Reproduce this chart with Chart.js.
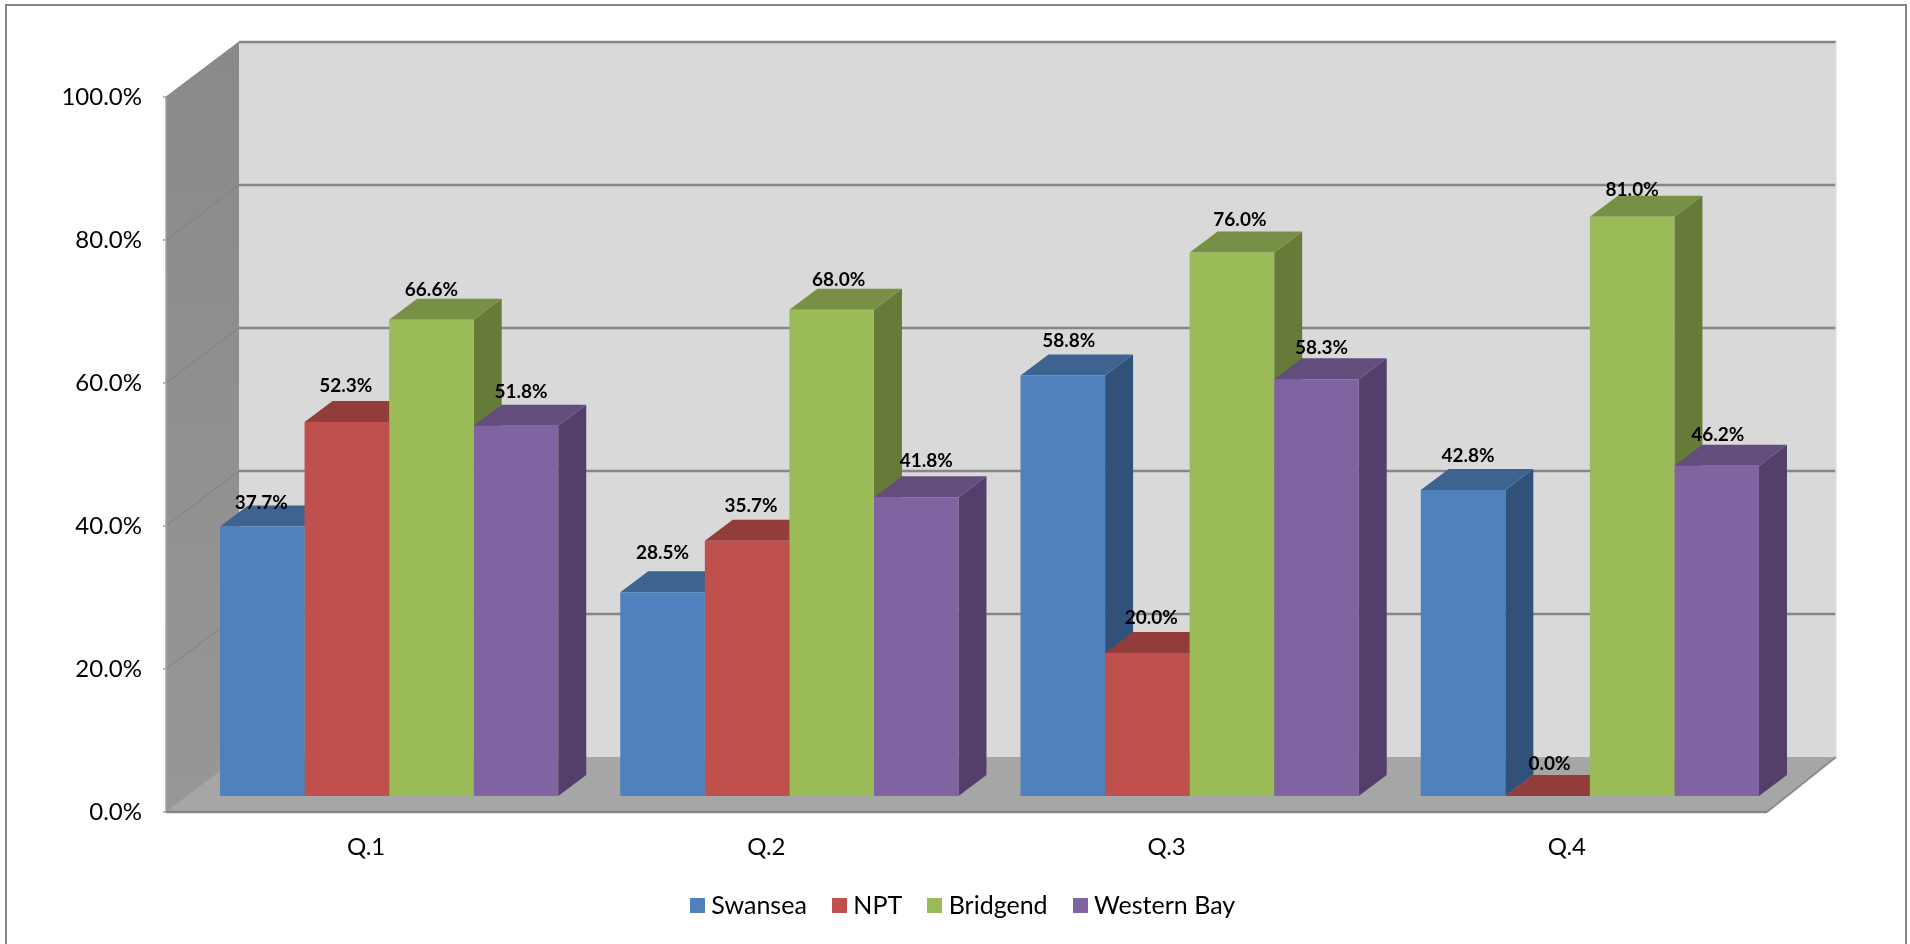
<!DOCTYPE html>
<html>
<head>
<meta charset="utf-8">
<style>
  html, body { margin: 0; padding: 0; background: #fff; overflow: hidden; }
  canvas { display: block; }
</style>
<script src="https://cdn.jsdelivr.net/npm/chart.js@4"></script>
</head>
<body>
<canvas id="chart3d" width="1910" height="944"></canvas>
<script>
const categories = ["Q.1", "Q.2", "Q.3", "Q.4"];
const seriesNames = ["Swansea", "NPT", "Bridgend", "Western Bay"];
const swansea = [37.7, 28.5, 58.8, 42.8];
const npt = [52.3, 35.7, 20.0, 0.0];
const bridgend = [66.6, 68.0, 76.0, 81.0];
const westernBay = [51.8, 41.8, 58.3, 46.2];

const frontColors = ["#4f81bd", "#c0504d", "#9bbb59", "#8064a2"];
const topColors = ["#3d6491", "#933d3b", "#779046", "#624d7d"];
const sideColors = ["#30527a", "#73302e", "#667b37", "#533f69"];

// label nudges from the top centre of each bar, per series then per category
const labelOffsetX = [[-1, 0, 6, 5], [-1, 4, 4, 2], [0, 7, 8, 0], [5, 10, 5, 1]];
const labelOffsetY = [[-24, -39, -35, -34], [-36, -35, -35, -32], [-30, -30, -33, -27], [-34, -36, -31, -31]];

// the bars stand a bit behind the front edge of the floor
const SHIFT_X = 23;
const SHIFT_Y = -16;
const BAR_DX = 28;
const BAR_DY = 21;
// back wall offset from the front plane
const WALL_DX_LEFT = 73;
const WALL_DX_RIGHT = 69;
const WALL_DY = 55;
// legend is not centred on the canvas in the original
const LEGEND_SHIFT = 82;

const FONT = "Lato, 'Open Sans', sans-serif";

function poly(ctx, pts, fill) {
  ctx.beginPath();
  pts.forEach((p, i) => i ? ctx.lineTo(p[0], p[1]) : ctx.moveTo(p[0], p[1]));
  ctx.closePath();
  ctx.fillStyle = fill;
  ctx.fill();
}

function line(ctx, x1, y1, x2, y2, color, width) {
  ctx.beginPath();
  ctx.moveTo(x1, y1);
  ctx.lineTo(x2, y2);
  ctx.strokeStyle = color;
  ctx.lineWidth = width;
  ctx.stroke();
}

// Legend swatch, the legend leaves too wide a gap with plain boxes
function swatch(color) {
  const c = document.createElement("canvas");
  c.width = 15;
  c.height = 15;
  const g = c.getContext("2d");
  g.fillStyle = color;
  g.fillRect(0, 0, 15, 15);
  return c;
}
const swatches = frontColors.map(swatch);

const box3d = {
  id: "box3d",
  afterLayout(chart) {
    chart.legend.left += LEGEND_SHIFT;
    chart.legend.right += LEGEND_SHIFT;
  },
  beforeDraw(chart) {
    const ctx = chart.ctx;
    ctx.save();
    ctx.strokeStyle = "#868686";
    ctx.lineWidth = 2;
    ctx.strokeRect(6, 5, 1900, 1000);
    ctx.restore();
  },
  beforeDatasetsDraw(chart) {
    const ctx = chart.ctx;
    const xs = chart.scales.x;
    const ys = chart.scales.y;
    const yTop = ys.getPixelForValue(100);
    const yBot = ys.getPixelForValue(0);
    const bl = xs.left + WALL_DX_LEFT;
    const br = xs.right + WALL_DX_RIGHT;

    ctx.save();
    // back wall
    poly(ctx, [[bl, yTop - WALL_DY], [br, yTop - WALL_DY], [br, yBot - WALL_DY], [bl, yBot - WALL_DY]], "#d9d9d9");
    // left wall
    const grad = ctx.createLinearGradient(0, yTop - WALL_DY, 0, yBot);
    grad.addColorStop(0, "#898989");
    grad.addColorStop(1, "#979797");
    poly(ctx, [[xs.left, yTop], [bl, yTop - WALL_DY], [bl, yBot - WALL_DY], [xs.left, yBot]], grad);
    // floor
    poly(ctx, [[xs.left, yBot], [bl, yBot - WALL_DY], [br, yBot - WALL_DY], [xs.right, yBot]], "#a6a6a6");

    // grid lines run over the left wall and along the back wall
    ys.ticks.forEach(t => {
      const y = ys.getPixelForValue(t.value);
      line(ctx, xs.left - 3, y, xs.left, y, "#a0a0a0", 1.5);
      if (t.value === 0) return;
      line(ctx, xs.left, y, bl, y - WALL_DY, "#808080", 1);
      line(ctx, bl, y - WALL_DY, br, y - WALL_DY, "#868686", 2.5);
    });
    line(ctx, xs.left, yTop, xs.left, yBot, "#a6a6a6", 1.5);
    line(ctx, br, yTop - WALL_DY, br, yBot - WALL_DY, "#e2e2e2", 1.5);
    line(ctx, xs.left, yBot, xs.left + WALL_DX_LEFT, yBot - WALL_DY, "#9c9c9c", 1);
    line(ctx, xs.right, yBot, br, yBot - WALL_DY, "#8c8c8c", 2);
    line(ctx, xs.left, yBot, xs.right, yBot, "#868686", 2.5);
    ctx.restore();

    // the library draws the front faces while this translate is on
    ctx.save();
    ctx.translate(SHIFT_X, SHIFT_Y);
    seriesNames.forEach((name, i) => {
      chart.getDatasetMeta(i).data.forEach(bar => {
        const l = bar.x - bar.width / 2;
        const r = bar.x + bar.width / 2;
        poly(ctx, [[r, bar.y], [r + BAR_DX, bar.y - BAR_DY], [r + BAR_DX, bar.base - BAR_DY], [r, bar.base]], sideColors[i]);
        poly(ctx, [[l, bar.y], [l + BAR_DX, bar.y - BAR_DY], [r + BAR_DX, bar.y - BAR_DY], [r, bar.y]], topColors[i]);
      });
    });
  },
  afterDatasetsDraw(chart) {
    const ctx = chart.ctx;
    ctx.restore();

    // value labels
    ctx.save();
    ctx.font = "bold 19px " + FONT;
    ctx.fillStyle = "#000";
    ctx.textAlign = "center";
    ctx.textBaseline = "middle";
    seriesNames.forEach((name, i) => {
      chart.getDatasetMeta(i).data.forEach((bar, j) => {
        const v = chart.data.datasets[i].data[j];
        ctx.fillText(v.toFixed(1) + "%", bar.x + SHIFT_X + labelOffsetX[i][j], bar.y + SHIFT_Y + labelOffsetY[i][j]);
      });
    });
    ctx.restore();
  }
};

const allSeries = [swansea, npt, bridgend, westernBay];

new Chart(document.getElementById("chart3d"), {
  type: "bar",
  data: {
    labels: categories,
    datasets: seriesNames.map((name, i) => ({
      label: name,
      data: allSeries[i],
      backgroundColor: frontColors[i],
      borderWidth: 0,
      categoryPercentage: 0.845,
      barPercentage: 1
    }))
  },
  options: {
    responsive: false,
    animation: false,
    layout: { padding: { left: 0, right: 143, top: 97, bottom: 16 } },
    scales: {
      x: {
        grid: { display: false, drawTicks: false },
        border: { display: false },
        ticks: { color: "#000", font: { family: FONT, size: 24 }, padding: 21, maxRotation: 0 },
        afterFit(scale) { scale.height = 50; }
      },
      y: {
        min: 0,
        max: 100,
        grid: { display: false, drawTicks: false },
        border: { display: false },
        ticks: {
          stepSize: 20,
          color: "#000",
          font: { family: FONT, size: 24 },
          padding: 24,
          callback: v => v.toFixed(1) + "%"
        },
        afterFit(scale) { scale.width = 166; }
      }
    },
    plugins: {
      tooltip: { enabled: false },
      legend: {
        position: "bottom",
        labels: {
          color: "#000",
          font: { family: FONT, size: 25 },
          usePointStyle: true,
          pointStyleWidth: 3,
          padding: 31,
          generateLabels(chart) {
            return Chart.defaults.plugins.legend.labels.generateLabels(chart).map((item, i) => {
              item.pointStyle = swatches[i];
              return item;
            });
          }
        }
      }
    }
  },
  plugins: [box3d]
});
</script>
</body>
</html>
